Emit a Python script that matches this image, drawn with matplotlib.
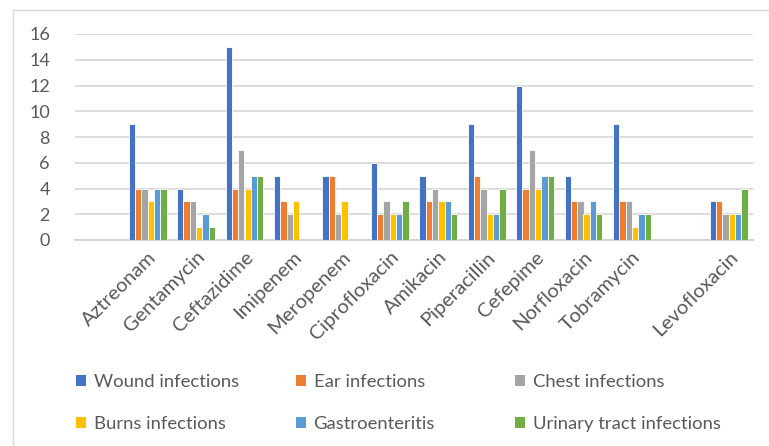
import numpy as np
import matplotlib.pyplot as plt
from matplotlib.patches import Patch
from matplotlib.lines import Line2D

plt.rcParams['font.family'] = ['Lato', 'DejaVu Sans']

# blank slots keep the spacing of the category axis
drugs = ['', 'Aztreonam', 'Gentamycin', 'Ceftazidime', 'Imipenem', 'Meropenem',
         'Ciprofloxacin', 'Amikacin', 'Piperacillin', 'Cefepime', 'Norfloxacin',
         'Tobramycin', '', 'Levofloxacin']

wound   = [0, 9, 4, 15, 5, 5, 6, 5, 9, 12, 5, 9, 0, 3]
ear     = [0, 4, 3, 4, 3, 5, 2, 3, 5, 4, 3, 3, 0, 3]
chest   = [0, 4, 3, 7, 2, 2, 3, 4, 4, 7, 3, 3, 0, 2]
burns   = [0, 3, 1, 4, 3, 3, 2, 3, 2, 4, 2, 1, 0, 2]
gastro  = [0, 4, 2, 5, 0, 0, 2, 3, 2, 5, 3, 2, 0, 2]
urinary = [0, 4, 1, 5, 0, 0, 3, 2, 4, 5, 2, 2, 0, 4]

series = [wound, ear, chest, burns, gastro, urinary]
names = ['Wound infections', 'Ear infections', 'Chest infections',
         'Burns infections', 'Gastroenteritis', 'Urinary tract infections']
colors = ['#4472C4', '#ED7D31', '#A5A5A5', '#FFC000', '#5B9BD5', '#70AD47']

fig = plt.figure(figsize=(7.69, 4.46), dpi=100)
ax = fig.add_axes([75 / 769, 1 - 240 / 446, 678 / 769, 206 / 446])

x = np.arange(len(drugs))
w = 0.13
for i, (vals, c) in enumerate(zip(series, colors)):
    ax.bar(x + (i - 2.5) * w, vals, w, color=c, edgecolor='white',
           linewidth=0.6, zorder=3)

ax.set_xlim(-0.5, len(drugs) - 0.5)
ax.set_ylim(0, 16)
ax.set_yticks(range(0, 17, 2))
ax.yaxis.grid(True, color='#D9D9D9', linewidth=1.3, zorder=0)
for s in ['top', 'right', 'left']:
    ax.spines[s].set_visible(False)
ax.spines['bottom'].set_color('#D0D0D0')
ax.spines['bottom'].set_linewidth(1.3)
ax.tick_params(axis='y', length=0, pad=18, labelsize=13, labelcolor='#595959')
ax.tick_params(axis='x', length=0, pad=6, labelsize=14.5, labelcolor='#595959')
ax.set_xticks(x)
ax.set_xticklabels(drugs, rotation=45, ha='right', rotation_mode='anchor')

# outer chart frame (left and top edges show)
fig.add_artist(Line2D([13 / 769, 13 / 769], [0, 1 - 10 / 446],
                      transform=fig.transFigure, color='#D9D9D9', linewidth=1))
fig.add_artist(Line2D([13 / 769, 1], [1 - 10 / 446, 1 - 10 / 446],
                      transform=fig.transFigure, color='#D9D9D9', linewidth=1))

# legend in three columns of two rows
col_x = [76 / 769, 296 / 769, 515 / 769]
for j in range(3):
    handles = [Patch(facecolor=colors[j], edgecolor='none'),
               Patch(facecolor=colors[j + 3], edgecolor='none')]
    leg = fig.legend(handles, [names[j], names[j + 3]], loc='upper left',
                     bbox_to_anchor=(col_x[j], 1 - 374 / 446), frameon=False,
                     fontsize=13.3, handlelength=0.55, handleheight=0.55,
                     handletextpad=0.4, labelspacing=1.42, borderaxespad=0,
                     borderpad=0)
    for t in leg.get_texts():
        t.set_color('#595959')

fig.savefig('out.png', dpi=100)
